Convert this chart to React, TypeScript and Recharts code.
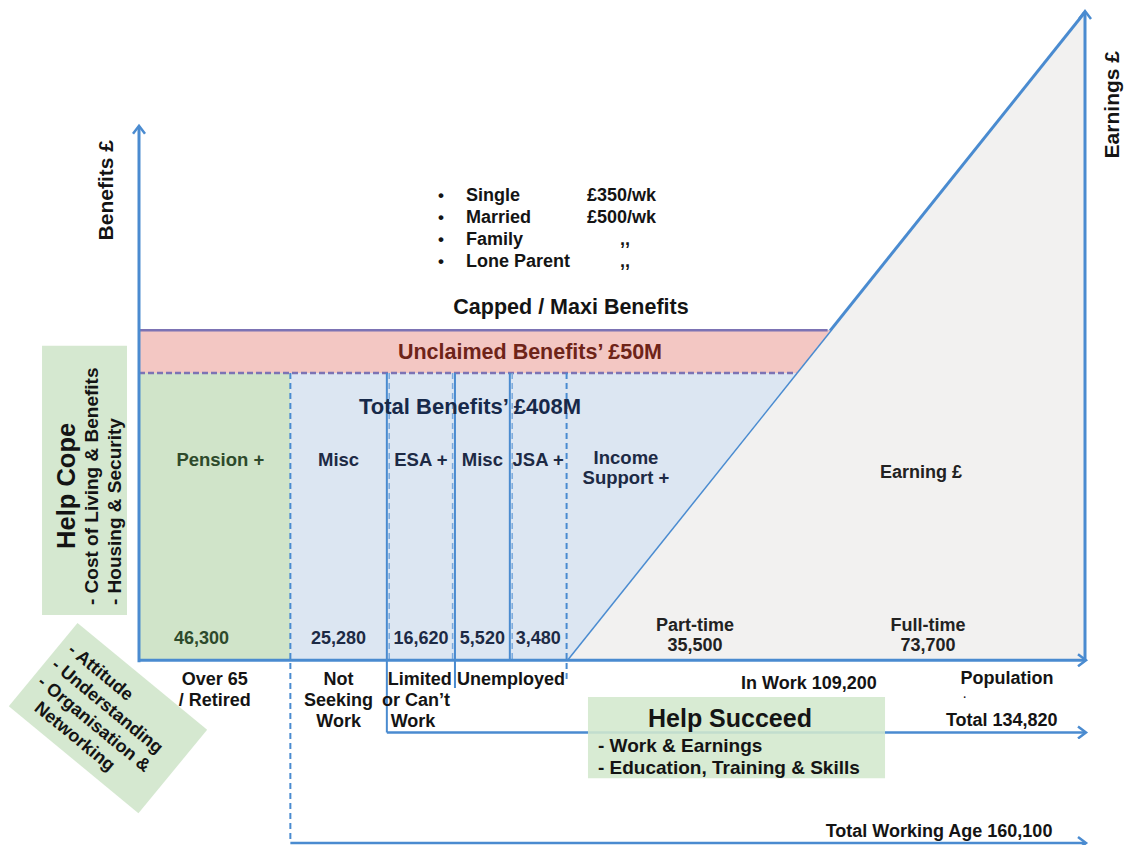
import React from "react";
import { Area, ComposedChart, ReferenceArea, ReferenceDot, ReferenceLine, XAxis, YAxis } from "recharts";

// schematic population axis: 0 = benefits axis, 100 = earnings axis
const segmentNames = ["Pension +", "Misc", "ESA +", "Misc", "JSA +"];
const segmentPopulation = [46300, 25280, 16620, 5520, 3480];
const segmentEdges = [0, 16, 26.2, 33.4, 39.2, 45.2];
const benefitTiers = ["Single", "Married", "Family", "Lone Parent"];
const benefitCaps = ["£350/wk", "£500/wk", ",,", ",,"];
const workNames = ["Part-time", "Full-time"];
const workPopulation = [35500, 73700];
const totalBenefitLevel = 44.3;
const capLevel = 50.9;
const earningsPeak = 100;
const inWork = 109200;
const totalPopulation = 134820;
const totalWorkingAge = 160100;

const FONT = '"Liberation Sans", Arial, Helvetica, sans-serif';
const BLUE = "#4a8bd0";
const PURPLE = "#7c73b4";
const fmt = (n: number) => n.toLocaleString("en-GB");

const workStart = segmentEdges[5];
const earnX = (level: number) => workStart + (level / earningsPeak) * (100 - workStart);

const benefitBand = [
  { x: segmentEdges[1], band: [0, totalBenefitLevel] },
  { x: workStart, band: [0, totalBenefitLevel] },
  { x: earnX(totalBenefitLevel), band: [totalBenefitLevel, totalBenefitLevel] },
];
const unclaimedBand = [
  { x: 0, band: [totalBenefitLevel, capLevel] },
  { x: earnX(totalBenefitLevel), band: [totalBenefitLevel, capLevel] },
  { x: earnX(capLevel), band: [capLevel, capLevel] },
];
const earnings = [
  { x: workStart, earn: 0 },
  { x: 100, earn: earningsPeak },
];

type NoteOpts = { size?: number; color?: string; anchor?: "start" | "middle" | "end"; rotate?: number };

function note(key: string, x: number, y: number, text: string, o: NoteOpts = {}) {
  const { size = 18, color = "#141414", anchor = "middle", rotate = 0 } = o;
  return (
    <ReferenceDot
      key={key}
      x={x}
      y={y}
      r={0}
      ifOverflow="visible"
      zIndex={2000}
      shape={(p: any) => (
        <text
          x={p.cx}
          y={p.cy}
          textAnchor={anchor}
          dominantBaseline="central"
          fontFamily={FONT}
          fontWeight="bold"
          fontSize={size}
          fill={color}
          transform={rotate ? `rotate(${rotate} ${p.cx} ${p.cy})` : undefined}
        >
          {text}
        </text>
      )}
    />
  );
}

function seg(key: string, x1: number, y1: number, x2: number, y2: number, o: { color?: string; width?: number; dash?: string; arrow?: boolean } = {}) {
  const { color = BLUE, width = 3, dash, arrow } = o;
  return (
    <ReferenceLine
      key={key}
      segment={[{ x: x1, y: y1 }, { x: x2, y: y2 }]}
      ifOverflow="visible"
      zIndex={1500}
      shape={(p: any) => (
        <line
          x1={p.x1}
          y1={p.y1}
          x2={p.x2}
          y2={p.y2}
          stroke={color}
          strokeWidth={width}
          strokeDasharray={dash}
          markerEnd={arrow ? "url(#arrowHead)" : undefined}
        />
      )}
    />
  );
}

const mid = (i: number) => (segmentEdges[i] + segmentEdges[i + 1]) / 2;

export default function App() {
  const segColors = ["#2d4a2b", "#1d2a45", "#1d2a45", "#1d2a45", "#1d2a45"];
  return (
    <div style={{ width: 1124, height: 845, background: "#fff" }}>
      <style>{"body{margin:0}"}</style>
      <ComposedChart width={1124} height={845} margin={{ top: 12, right: 39, bottom: 0, left: 139 }}>
        <defs>
          <marker id="arrowHead" markerWidth="14" markerHeight="14" refX="9" refY="7" orient="auto" markerUnits="userSpaceOnUse">
            <path d="M2,1 L10,7 L2,13" fill="none" stroke={BLUE} strokeWidth="2.5" />
          </marker>
        </defs>
        <XAxis type="number" dataKey="x" domain={[0, 100]} hide allowDataOverflow />
        <YAxis type="number" domain={[-28.5, 100]} hide allowDataOverflow />

        {/* boxes behind */}
        <ReferenceArea x1={-10.25} x2={-1.27} y1={6.97} y2={48.5} ifOverflow="visible" fill="#d5e8d0" fillOpacity={1} stroke="none" />
        <ReferenceArea x1={0} x2={segmentEdges[1]} y1={0} y2={totalBenefitLevel} ifOverflow="visible" fill="#d0e4c9" fillOpacity={1} stroke="none" />

        <Area data={earnings} dataKey="earn" type="linear" baseValue={0} fill="#f2f1f0" fillOpacity={1} stroke={BLUE} strokeWidth={3} isAnimationActive={false} />
        <Area data={benefitBand} dataKey="band" type="linear" fill="#dce6f2" fillOpacity={1} stroke="none" isAnimationActive={false} />
        <Area data={unclaimedBand} dataKey="band" type="linear" fill="#f3c7c3" fillOpacity={1} stroke="none" isAnimationActive={false} />

        {/* cap and benefit level lines */}
        {seg("cap", 0, capLevel, earnX(capLevel) - 0.3, capLevel, { color: PURPLE, width: 2.5 })}
        {seg("tot", 0, totalBenefitLevel, earnX(totalBenefitLevel), totalBenefitLevel, { color: PURPLE, width: 2.5, dash: "6 3" })}

        {/* segment edges */}
        {seg("e1", segmentEdges[1], totalBenefitLevel, segmentEdges[1], -28.2, { width: 2, dash: "6 4" })}
        {seg("e2", segmentEdges[2], totalBenefitLevel, segmentEdges[2], -11.14, { width: 2 })}
        {seg("e2d", segmentEdges[2] + 0.25, totalBenefitLevel, segmentEdges[2] + 0.25, 0, { width: 1.5, dash: "6 4", color: "#7aa9dc" })}
        {seg("e3", segmentEdges[3], totalBenefitLevel, segmentEdges[3], -4.29, { width: 2 })}
        {seg("e3d", segmentEdges[3] - 0.25, totalBenefitLevel, segmentEdges[3] - 0.25, 0, { width: 1.5, dash: "6 4", color: "#7aa9dc" })}
        {seg("e4", segmentEdges[4], totalBenefitLevel, segmentEdges[4], 0, { width: 2 })}
        {seg("e4d", segmentEdges[4] + 0.25, totalBenefitLevel, segmentEdges[4] + 0.25, 0, { width: 1.5, dash: "6 4", color: "#7aa9dc" })}
        {seg("e5", workStart, totalBenefitLevel, workStart, -3.06, { width: 2, dash: "6 4" })}

        {/* axes */}
        {seg("ax-left", 0, -0.3, 0, 82.3, { arrow: true })}
        {seg("ax-bottom", 0, 0, 100, 0, { arrow: true })}
        {seg("ax-right", 100, 0, 100, earningsPeak, { arrow: true })}
        {seg("ax-total", segmentEdges[2], -11.14, 100, -11.14, { arrow: true, width: 2.5 })}
        {seg("ax-working", segmentEdges[1], -28.2, 100, -28.2, { arrow: true, width: 2.5 })}

        <ReferenceArea x1={47.46} x2={78.86} y1={-18.2} y2={-5.68} ifOverflow="visible" fill="#d3e8cd" fillOpacity={0.88} stroke="none" zIndex={1600} />

        {/* diagonal note box */}
        <ReferenceDot
          x={-3.28}
          y={-8.92}
          r={0}
          ifOverflow="visible"
          zIndex={1700}
          shape={(p: any) => (
            <g transform={`translate(${p.cx} ${p.cy}) rotate(39.5)`} fontFamily={FONT} fontWeight="bold" fontSize={18} fill="#141414">
              <rect x={-84} y={-54} width={168} height={108} fill="#d5e8d0" />
              <text x={-74} y={-31} dominantBaseline="central">- Attitude</text>
              <text x={-77} y={-9} dominantBaseline="central">- Understanding</text>
              <text x={-77} y={13} dominantBaseline="central">- Organisation &amp;</text>
              <text x={-63} y={35} dominantBaseline="central">Networking</text>
            </g>
          )}
        />

        {note("benefits", -3.49, 72.5, "Benefits £", { rotate: -90, size: 21 })}
        {note("earnings", 102.85, 85.7, "Earnings £", { rotate: -90, size: 21 })}

        {benefitTiers.map((t, i) => note(`bul${i}`, 31.92, 71.77 - i * 3.4, "•", { size: 17 }))}
        {benefitTiers.map((t, i) => note(`tier${i}`, 34.57, 71.77 - i * 3.4, t, { anchor: "start" }))}
        {benefitCaps.map((c, i) =>
          c === ",," ? note(`cap${i}`, 51.37, 71.77 - i * 3.4, c) : note(`cap${i}`, 47.36, 71.77 - i * 3.4, c, { anchor: "start" })
        )}

        {note("capped", 45.67, 54.5, "Capped / Maxi Benefits", { size: 21.5 })}
        {note("unclaimed", 41.33, 47.56, "Unclaimed Benefits’ £50M", { size: 21.5, color: "#6e2419" })}
        {note("totalben", 35.0, 39.1, "Total Benefits’ £408M", { size: 22, color: "#17294a" })}

        {segmentNames.map((n, i) => note(`sn${i}`, mid(i) + (i === 0 ? 0.6 : 0), 31.04, n, { color: segColors[i], size: 18.5 }))}
        {segmentPopulation.map((v, i) => note(`sv${i}`, mid(i) - (i === 0 ? 1.4 : 0), 3.42, fmt(v), { color: segColors[i] }))}
        {note("inc1", 51.48, 31.35, "Income", { color: "#1d2a45", size: 18.5 })}
        {note("inc2", 51.48, 28.26, "Support +", { color: "#1d2a45", size: 18.5 })}
        {note("earning", 82.66, 29.03, "Earning £", { color: "#222" })}

        {workNames.map((n, i) => note(`wn${i}`, [58.77, 83.4][i], 5.43, n, { color: "#222" }))}
        {workPopulation.map((v, i) => note(`wv${i}`, [58.77, 83.4][i], 2.34, fmt(v), { color: "#222" }))}

        {note("o1", mid(0), -2.9, "Over 65")}
        {note("o2", mid(0), -6.14, "/ Retired")}
        {note("n1", mid(1), -2.9, "Not")}
        {note("n2", mid(1), -6.14, "Seeking")}
        {note("n3", mid(1), -9.38, "Work")}
        {note("l1", 26.3, -2.9, "Limited", { anchor: "start" })}
        {note("l2", 25.7, -6.14, "or Can’t", { anchor: "start" })}
        {note("l3", 26.6, -9.38, "Work", { anchor: "start" })}
        {note("unemp", 39.32, -2.9, "Unemployed")}
        {note("inwork", 70.82, -3.52, `In Work ${fmt(inWork)}`)}
        {note("pop", 91.75, -2.75, "Population")}
        {note("popdot", 87.3, -5.7, "·", { size: 10 })}
        {note("total", 91.2, -9.22, `Total ${fmt(totalPopulation)}`)}
        {note("working", 84.57, -26.3, `Total Working Age ${fmt(totalWorkingAge)}`)}

        {note("hs", 62.47, -8.9, "Help Succeed", { size: 25 })}
        {note("hs1", 48.52, -13.08, "- Work & Earnings", { anchor: "start", size: 19 })}
        {note("hs2", 48.52, -16.48, "- Education, Training & Skills", { anchor: "start", size: 19 })}

        {note("hc", -7.72, 26.9, "Help Cope", { rotate: -90, size: 25.5 })}
        {note("hc1", -4.97, 8.52, "- Cost of Living & Benefits", { rotate: -90, anchor: "start", size: 19 })}
        {note("hc2", -2.54, 8.52, "- Housing & Security", { rotate: -90, anchor: "start", size: 19 })}
      </ComposedChart>
    </div>
  );
}
